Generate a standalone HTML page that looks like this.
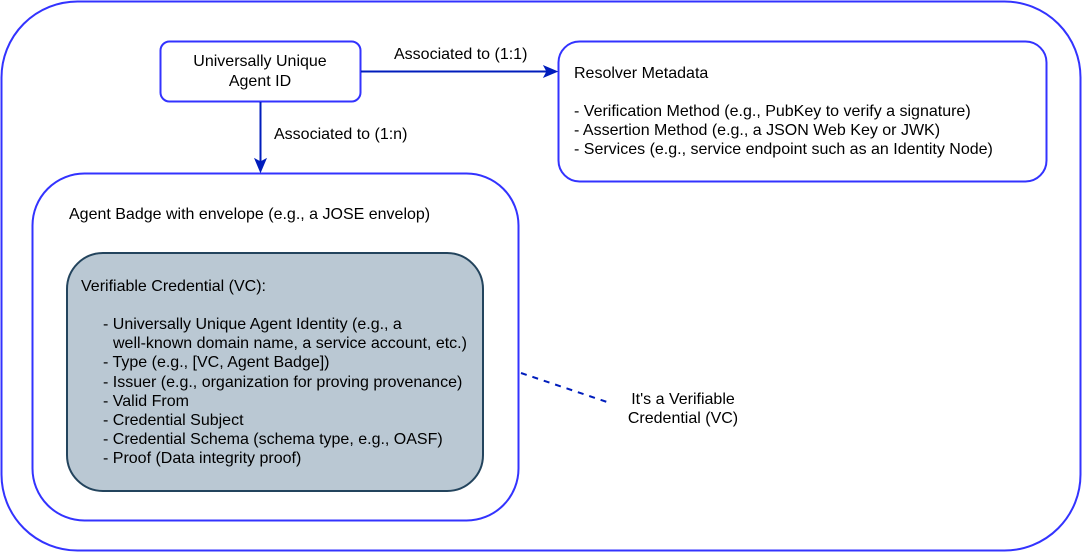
<!DOCTYPE html>
<html><head><meta charset="utf-8"><style>
html,body{margin:0;padding:0;background:#fff}
svg{display:block}
text{font-family:"Liberation Sans",Arial,sans-serif;font-size:16px;fill:#000}
</style></head><body>
<svg width="1082" height="552" viewBox="0 0 1082 552" xmlns="http://www.w3.org/2000/svg">
<rect width="1082" height="552" fill="#fff"/>
<rect x="1.5" y="1.5" width="1079" height="549" rx="76" ry="76" fill="#fff" stroke="#3333ff" stroke-width="2"/>
<rect x="160.5" y="41.5" width="200" height="60" rx="9" ry="9" fill="#fff" stroke="#3333ff" stroke-width="2"/>
<rect x="558.5" y="41.5" width="488" height="140" rx="21" ry="21" fill="#fff" stroke="#3333ff" stroke-width="2"/>
<rect x="32.5" y="173.5" width="486" height="347" rx="52" ry="52" fill="#fff" stroke="#3333ff" stroke-width="2"/>
<rect x="67" y="253" width="416" height="238" rx="36" ry="36" fill="#bac8d3" stroke="#23445d" stroke-width="2"/>
<path d="M361 71.5H548" stroke="#001dbc" stroke-width="2" fill="none"/>
<path d="M557 71.5L544 77L547 71.5L544 66Z" fill="#001dbc" stroke="#001dbc"/>
<path d="M260.5 102V163" stroke="#001dbc" stroke-width="2" fill="none"/>
<path d="M260.5 172L255 159L260.5 162L266 159Z" fill="#001dbc" stroke="#001dbc"/>
<path d="M521 373L607 402" stroke="#001dbc" stroke-width="2" stroke-dasharray="6 6" fill="none"/>
<text x="260" y="66" text-anchor="middle">Universally Unique</text>
<text x="260" y="86" text-anchor="middle">Agent ID</text>
<text x="394" y="59">Associated to (1:1)</text>
<text x="274" y="139">Associated to (1:n)</text>
<text x="574" y="78">Resolver Metadata</text>
<text x="574" y="116">- Verification Method (e.g., PubKey to verify a signature)</text>
<text x="574" y="135">- Assertion Method (e.g., a JSON Web Key or JWK)</text>
<text x="574" y="154">- Services (e.g., service endpoint such as an Identity Node)</text>
<text x="69" y="219">Agent Badge with envelope (e.g., a JOSE envelop)</text>
<text x="81" y="291">Verifiable Credential (VC):</text>
<text x="103" y="329">- Universally Unique Agent Identity (e.g., a</text>
<text x="113" y="348">well-known domain name, a service account, etc.)</text>
<text x="103" y="367">- Type (e.g., [VC, Agent Badge])</text>
<text x="103" y="387">- Issuer (e.g., organization for proving provenance)</text>
<text x="103" y="406">- Valid From</text>
<text x="103" y="425">- Credential Subject</text>
<text x="103" y="444">- Credential Schema (schema type, e.g., OASF)</text>
<text x="103" y="463">- Proof (Data integrity proof)</text>
<text x="683" y="404" text-anchor="middle">It's a Verifiable</text>
<text x="683" y="423" text-anchor="middle">Credential (VC)</text>
</svg>
</body></html>
